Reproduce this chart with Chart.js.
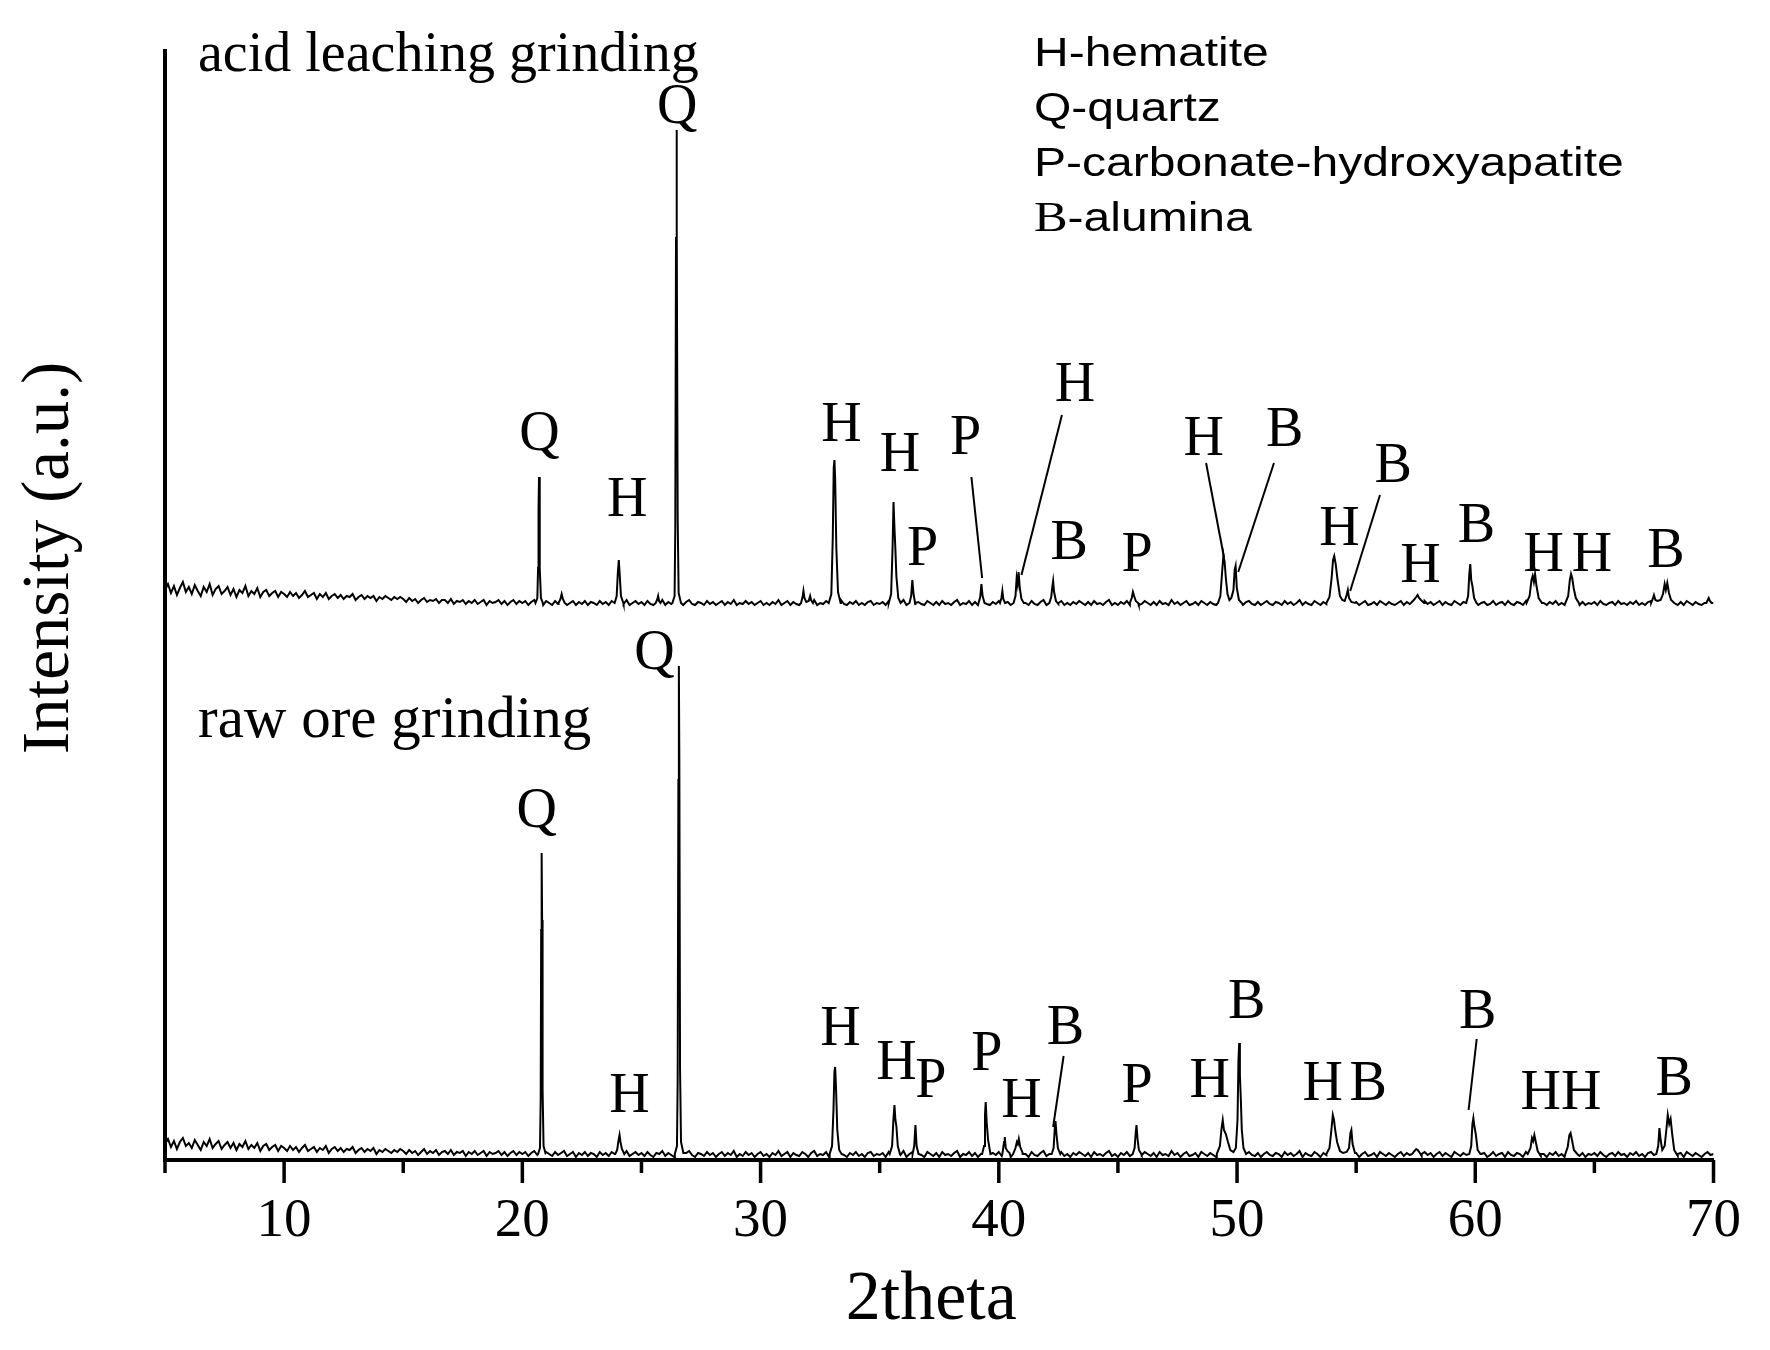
<!DOCTYPE html>
<html>
<head>
<meta charset="utf-8">
<script src="https://cdn.jsdelivr.net/npm/chart.js"></script>
<style>
  html, body { margin: 0; padding: 0; background: #fff; }
  canvas { display: block; }
</style>
</head>
<body>
<canvas id="c" width="1770" height="1350"></canvas>
<script>
// ---------------- DATA ----------------
// Baseline intensity (a.u.) read every 0.125 deg 2theta, starting at 5 deg
const baseStart = 5;
const baseStep = 0.125;
const rawBaseline = [
  16,21,13,19,11,18,22,14,17,12,20,15,10,18,14,21,12,16,19,11,
  15,18,12,17,10,16,13,19,11,15,12,17,9,14,16,10,13,15,9,14,
  12,9,14,10,13,8,12,15,9,11,13,8,12,10,14,7,11,13,9,12,
  8,11,10,13,7,10,12,8,11,9,12,6,10,8,11,9,7,10,8,11,
  9,6,10,7,9,5,8,11,6,9,7,10,5,8,9,6,10,5,8,7,
  9,4,8,6,9,5,7,9,4,8,6,7,9,5,8,4,7,9,5,8,
  6,8,4,7,9,5,7,3,8,6,4,8,5,7,9,4,6,8,3,7,
  5,8,4,7,6,3,8,5,7,4,8,6,3,7,5,9,4,6,8,5,
  7,4,8,5,3,7,6,9,4,7,5,3,8,6,4,7,9,5,3,7,
  6,4,8,5,7,3,6,8,4,7,5,9,3,6,4,8,5,7,3,6,
  8,4,6,3,7,5,9,4,6,8,3,7,5,4,8,6,3,7,9,4,
  6,5,8,3,7,4,6,9,5,3,7,5,8,4,6,3,7,8,4,6,
  5,7,3,8,6,4,7,5,9,3,6,8,4,7,5,3,8,6,4,7,
  3,8,5,6,4,7,9,3,6,5,8,4,7,3,6,8,5,4,7,5,
  8,4,6,7,3,5,8,4,7,6,3,8,5,4,7,9,4,6,3,7,
  5,8,4,6,3,7,5,8,6,4,7,3,8,5,6,4,7,9,4,6,
  3,7,5,8,4,6,7,3,5,8,6,4,7,3,8,5,6,4,9,5,
  7,3,6,8,4,5,7,3,8,6,4,7,5,3,8,6,4,7,5,8,
  4,6,3,7,8,5,4,7,3,6,8,5,4,7,6,3,8,5,7,4,
  6,9,3,7,5,4,8,6,3,7,5,8,4,6,3,7,5,8,4,6,
  7,3,6,8,4,5,7,3,8,6,4,7,5,3,6,8,4,7,5,9,
  3,6,4,8,5,7,3,6,8,4,7,5,3,8,6,4,7,5,6,3,
  8,4,6,7,3,5,8,4,6,7,3,8,5,4,7,6,3,8,5,4,
  7,9,4,6,3,7,5,8,4,6,3,7,5,8,6,4,7,3,6,5,
  7,4,8,5,3,6,7,4,8,5,6,3,7,5,8,4,6,3,7,8,
  5,4,6,7,3,8,5,6,4,7,3,8,6,4,7,5,3,6,8,5,
  6
];
const acidBaseline = [
  18,24,15,22,13,20,26,16,21,14,23,17,12,21,16,24,13,19,22,14,
  17,21,13,19,11,18,15,22,12,17,14,20,11,16,18,12,15,17,11,16,
  14,11,16,12,15,10,13,17,11,13,15,9,14,11,15,9,12,14,10,13,
  9,12,11,14,8,11,13,9,12,10,12,7,11,9,12,10,8,11,9,11,
  9,6,10,7,9,5,8,10,6,8,7,9,5,8,8,5,9,4,7,6,
  8,4,7,5,8,4,6,8,3,7,5,6,8,4,7,3,6,8,4,7,
  5,7,3,6,8,4,6,3,7,5,3,7,4,6,8,3,5,7,3,6,
  4,7,3,6,5,3,7,4,6,3,7,5,3,6,4,8,3,5,7,4,
  6,3,7,4,3,6,5,8,3,6,4,3,7,5,3,6,8,4,3,6,
  5,3,7,4,6,3,5,7,3,6,4,8,3,5,4,7,4,6,3,5,
  7,3,5,3,6,4,8,3,5,7,3,6,4,3,7,5,3,6,8,3,
  5,4,7,3,6,3,5,8,4,3,6,4,7,3,5,3,6,7,3,5,
  4,6,3,7,5,3,6,4,8,3,5,7,3,6,4,3,7,5,3,6,
  3,7,4,5,3,6,8,3,5,4,7,3,6,3,5,7,4,3,6,4,
  7,3,5,6,3,4,7,3,6,5,3,7,4,3,6,8,3,5,3,6,
  4,7,3,5,3,6,4,7,5,3,6,3,7,4,5,3,6,8,3,5,
  3,6,4,7,3,5,6,3,4,7,5,3,6,3,7,4,5,3,8,4,
  6,3,5,7,3,4,6,3,7,5,3,6,4,3,7,5,3,6,4,7,
  3,5,3,6,7,4,3,6,3,5,7,4,3,6,5,3,7,4,6,3,
  5,8,3,6,4,3,7,5,3,6,4,7,3,5,3,6,4,7,3,5,
  6,3,5,7,3,4,6,3,7,5,3,6,4,3,5,7,3,6,4,8,
  3,5,3,7,4,6,3,5,7,3,6,4,3,7,5,3,6,4,5,3,
  7,3,5,6,3,4,7,3,5,6,3,7,4,3,6,5,3,7,4,3,
  6,8,3,5,3,6,4,7,3,5,3,6,4,7,5,3,6,3,5,4,
  6,3,7,4,3,5,6,3,7,4,5,3,6,4,7,3,5,3,6,7,
  4,3,5,6,3,7,4,5,3,6,3,7,5,3,6,4,3,5,7,4,
  5
];

// Peak profiles [2theta, intensity] - raw ore grinding
const rawPeaks = [
  [[20.66,6],[20.74,12],[20.77,60],[20.79,230],[20.81,307],[20.83,240],[20.85,70],[20.89,14],[20.97,7]],
  [[23.90,6],[23.98,10],[24.04,20],[24.08,25],[24.12,18],[24.18,11],[24.28,6]],
  [[26.40,6],[26.49,14],[26.52,80],[26.55,380],[26.57,494],[26.59,400],[26.62,90],[26.66,18],[26.76,7]],
  [[32.90,6],[33.00,14],[33.06,50],[33.10,88],[33.13,93],[33.17,70],[33.22,30],[33.30,10],[33.40,6]],
  [[35.42,6],[35.52,14],[35.58,42],[35.62,55],[35.66,40],[35.70,34],[35.76,14],[35.85,6]],
  [[36.38,6],[36.45,14],[36.50,35],[36.55,14],[36.63,6]],
  [[39.30,6],[39.38,14],[39.42,45],[39.45,58],[39.49,38],[39.55,20],[39.65,6]],
  [[40.15,6],[40.22,18],[40.25,23],[40.29,12],[40.36,9],[40.45,7]],
  [[40.60,6],[40.70,12],[40.76,18],[40.80,16],[40.84,21],[40.90,13],[41.00,6]],
  [[42.22,6],[42.30,12],[42.35,32],[42.38,39],[42.42,26],[42.48,12],[42.58,6]],
  [[45.62,6],[45.70,12],[45.75,28],[45.78,35],[45.82,22],[45.88,10],[45.98,6]],
  [[49.15,6],[49.28,14],[49.35,32],[49.40,40],[49.45,30],[49.53,26],[49.62,18],[49.72,10],[49.85,8],[49.95,12],[50.02,40],[50.06,100],[50.09,117],[50.12,85],[50.16,60],[50.20,30],[50.27,12],[50.38,6]],
  [[53.75,6],[53.88,12],[53.96,30],[54.02,45],[54.07,40],[54.12,30],[54.20,18],[54.32,9],[54.45,7],[54.60,8],[54.70,12],[54.76,27],[54.80,30],[54.85,16],[54.95,7]],
  [[57.35,6],[57.45,9],[57.52,11],[57.58,10],[57.65,8],[57.75,6]],
  [[59.75,6],[59.83,14],[59.88,36],[59.92,42],[59.96,34],[60.02,26],[60.10,10],[60.22,6]],
  [[62.20,6],[62.32,12],[62.38,22],[62.43,19],[62.48,25],[62.54,18],[62.62,9],[62.75,6]],
  [[63.78,6],[63.88,13],[63.95,25],[64.00,27],[64.06,20],[64.14,10],[64.28,6]],
  [[67.60,6],[67.68,14],[67.73,32],[67.78,20],[67.85,10],[67.95,14],[68.02,30],[68.08,45],[68.14,36],[68.20,41],[68.27,25],[68.35,10],[68.50,6]]
];

// Peak profiles [2theta, intensity above own baseline level] - acid leaching grinding
const acidPeaks = [
  [[20.55,5],[20.63,10],[20.66,40],[20.68,100],[20.70,131],[20.72,105],[20.74,40],[20.78,10],[20.86,5]],
  [[21.52,5],[21.60,9],[21.65,14],[21.70,9],[21.78,5]],
  [[23.88,5],[23.96,12],[24.01,36],[24.05,48],[24.09,32],[24.14,12],[24.24,5]],
  [[25.60,5],[25.67,9],[25.70,12],[25.74,7],[25.80,5]],
  [[26.30,5],[26.39,12],[26.42,80],[26.45,370],[26.47,478],[26.49,380],[26.52,90],[26.56,15],[26.66,5]],
  [[31.70,5],[31.77,12],[31.80,17],[31.84,10],[31.92,6],[32.02,7],[32.08,12],[32.12,8],[32.20,5]],
  [[32.86,5],[32.97,14],[33.03,70],[33.07,140],[33.10,148],[33.13,130],[33.18,60],[33.25,16],[33.36,5]],
  [[35.38,5],[35.48,14],[35.54,60],[35.58,106],[35.62,80],[35.66,58],[35.70,32],[35.78,10],[35.88,5]],
  [[36.25,5],[36.32,12],[36.37,28],[36.42,14],[36.50,5]],
  [[39.15,5],[39.22,11],[39.27,24],[39.32,12],[39.40,5]],
  [[40.05,5],[40.11,10],[40.15,17],[40.19,9],[40.26,5]],
  [[40.62,5],[40.70,12],[40.75,30],[40.79,24],[40.83,36],[40.88,20],[40.95,9],[41.05,5]],
  [[42.12,5],[42.20,11],[42.25,22],[42.28,27],[42.32,16],[42.40,7],[42.50,5]],
  [[45.50,5],[45.58,10],[45.63,16],[45.68,12],[45.75,7],[45.85,5]],
  [[49.20,5],[49.30,12],[49.38,38],[49.43,53],[49.48,46],[49.53,30],[49.60,14],[49.68,8],[49.76,10],[49.85,18],[49.90,38],[49.94,42],[49.99,20],[50.08,8],[50.20,5]],
  [[53.75,5],[53.88,11],[53.97,30],[54.03,48],[54.08,52],[54.14,44],[54.22,28],[54.32,12],[54.42,8],[54.52,7],[54.60,13],[54.65,18],[54.70,10],[54.80,6],[54.95,5]],
  [[57.30,5],[57.42,8],[57.52,11],[57.58,13],[57.64,10],[57.72,8],[57.85,5]],
  [[59.62,5],[59.70,12],[59.75,34],[59.79,44],[59.83,28],[59.88,22],[59.95,10],[60.05,5]],
  [[62.15,5],[62.28,12],[62.36,28],[62.41,32],[62.46,26],[62.51,34],[62.57,22],[62.66,10],[62.80,5]],
  [[63.78,5],[63.90,12],[63.97,28],[64.02,34],[64.07,30],[64.13,20],[64.22,10],[64.35,5]],
  [[67.38,5],[67.45,9],[67.50,13],[67.56,8],[67.65,7],[67.78,8],[67.88,14],[67.95,24],[68.00,18],[68.06,25],[68.13,15],[68.22,8],[68.35,5]],
  [[69.70,5],[69.76,8],[69.80,10],[69.85,7],[69.92,5]]
];

// vertical offset of the upper (acid leaching) pattern
const acidOffset = 552;

// Phase labels [text, 2theta, intensity]
const rawLabels = [
  ['Q',20.6,348],['H',24.5,63],['Q',25.55,506],['H',33.35,130],['H',35.7,96],['P',37.15,78],
  ['P',39.5,105],['H',40.95,58],['B',42.8,131],['P',45.8,73],['H',48.85,78],['B',50.4,157],
  ['H',53.6,75],['B',55.5,75],['B',60.1,147],['H',62.75,66],['H',64.45,66],['B',68.35,80]
];
const acidLabels = [
  ['Q',20.72,725],['H',24.4,659],['Q',26.5,1052],['H',33.4,734],['H',35.85,704],['P',36.8,610],
  ['P',38.6,721],['H',43.2,774],['B',42.95,616],['P',45.8,604],['H',48.6,720],['B',52.0,729],
  ['H',54.3,630],['B',56.55,693],['H',57.7,593],['B',60.05,633],['H',62.87,604],['H',64.9,604],['B',68.0,608]
];
// Leader lines [2theta1, I1, 2theta2, I2]
const rawLeaders = [[42.72,104,42.28,33],[60.06,121,59.72,50]];
const acidLeaders = [[38.85,683,39.3,582],[42.65,745,40.95,585],[48.7,697,49.45,603],[51.55,697,50.05,588],[56.0,665,54.75,569]];

const legendLines = [['H','-hematite'],['Q','-quartz'],['P','-carbonate-hydroxyapatite'],['B','-alumina']];
const seriesNames = ['raw ore grinding','acid leaching grinding'];
const xTitle = '2theta';
const yTitle = 'Intensity (a.u.)';

// ---------------- BUILD ----------------
function buildSeries(base, peaks, offset) {
  const pts = [];
  base.forEach((v, i) => {
    const t = baseStart + i * baseStep;
    if (peaks.some(p => t > p[0][0] && t < p[p.length - 1][0])) return;
    pts.push({x: t, y: v + offset});
  });
  peaks.forEach(p => p.forEach(([t, v]) => pts.push({x: t, y: v + offset})));
  pts.sort((a, b) => a.x - b.x);
  return pts;
}

const SERIF = '"Liberation Serif", "Times New Roman", serif';
const SANS = '"Liberation Sans", Arial, sans-serif';

const annotPlugin = {
  id: 'annot',
  afterDraw(chart) {
    const {ctx, chartArea, scales: {x, y}} = chart;
    ctx.save();
    // x ticks (major / minor)
    ctx.strokeStyle = '#000';
    ctx.lineWidth = 3.5;
    x.ticks.forEach(t => {
      const px = x.getPixelForValue(t.value);
      const len = t.value % 10 === 0 ? 23 : 13;
      ctx.beginPath();
      ctx.moveTo(px, chartArea.bottom);
      ctx.lineTo(px, chartArea.bottom + len);
      ctx.stroke();
    });
    // peak letters
    ctx.fillStyle = '#000';
    ctx.font = '56px ' + SERIF;
    ctx.textAlign = 'center';
    ctx.textBaseline = 'middle';
    [...rawLabels, ...acidLabels].forEach(([s, t, v]) => {
      ctx.fillText(s, x.getPixelForValue(t), y.getPixelForValue(v));
    });
    // leader lines
    ctx.lineWidth = 2;
    [...rawLeaders, ...acidLeaders].forEach(([t1, v1, t2, v2]) => {
      ctx.beginPath();
      ctx.moveTo(x.getPixelForValue(t1), y.getPixelForValue(v1));
      ctx.lineTo(x.getPixelForValue(t2), y.getPixelForValue(v2));
      ctx.stroke();
    });
    // series names
    ctx.textAlign = 'left';
    ctx.font = '56px ' + SERIF;
    ctx.fillText(seriesNames[1], chartArea.left + 33, 56);
    ctx.font = '59px ' + SERIF;
    ctx.fillText(seriesNames[0], chartArea.left + 33, 721);
    // legend (phase key)
    const lx = 1034, ly = [55, 110, 165, 220];
    legendLines.forEach(([k, rest], i) => {
      ctx.save();
      ctx.translate(lx, ly[i]);
      ctx.scale(1.2, 1);
      if (k === 'B') {
        ctx.font = '42px ' + SERIF;
        ctx.fillText(k, 0, 0);
        const w = ctx.measureText(k).width;
        ctx.font = '40px ' + SANS;
        ctx.fillText(rest, w, 0);
      } else {
        ctx.font = '40px ' + SANS;
        ctx.fillText(k + rest, 0, 0);
      }
      ctx.restore();
    });
    // x axis title
    ctx.textAlign = 'center';
    ctx.font = '70px ' + SERIF;
    ctx.fillText(xTitle, (chartArea.left + chartArea.right) / 2 - 8, 1301);
    // y axis title
    ctx.save();
    ctx.translate(50, 558);
    ctx.rotate(-Math.PI / 2);
    ctx.font = '67px ' + SERIF;
    ctx.fillText(yTitle, 0, 0);
    ctx.restore();
    ctx.restore();
  }
};

new Chart(document.getElementById('c'), {
  type: 'line',
  data: {
    datasets: [
      { label: seriesNames[0], data: buildSeries(rawBaseline, rawPeaks, 0),
        borderColor: '#000', borderWidth: 2, pointRadius: 0, tension: 0, fill: false },
      { label: seriesNames[1], data: buildSeries(acidBaseline, acidPeaks, acidOffset),
        borderColor: '#000', borderWidth: 2, pointRadius: 0, tension: 0, fill: false }
    ]
  },
  options: {
    responsive: false,
    animation: false,
    devicePixelRatio: 1,
    events: [],
    layout: { padding: { left: 165, top: 51, right: 55, bottom: 66 } },
    plugins: { legend: { display: false }, tooltip: { enabled: false } },
    scales: {
      x: {
        type: 'linear', min: 5, max: 70,
        grid: { display: false, drawTicks: false },
        border: { display: true, color: '#000', width: 4 },
        ticks: {
          stepSize: 5, autoSkip: false, maxRotation: 0, padding: 29, color: '#000',
          font: { family: SERIF, size: 55 },
          callback: v => (v % 10 === 0 ? String(v) : '')
        }
      },
      y: {
        min: 0, max: 1109,
        grid: { display: false, drawTicks: false },
        border: { display: true, color: '#000', width: 4 },
        ticks: { display: false }
      }
    }
  },
  plugins: [annotPlugin]
});
</script>
</body>
</html>
